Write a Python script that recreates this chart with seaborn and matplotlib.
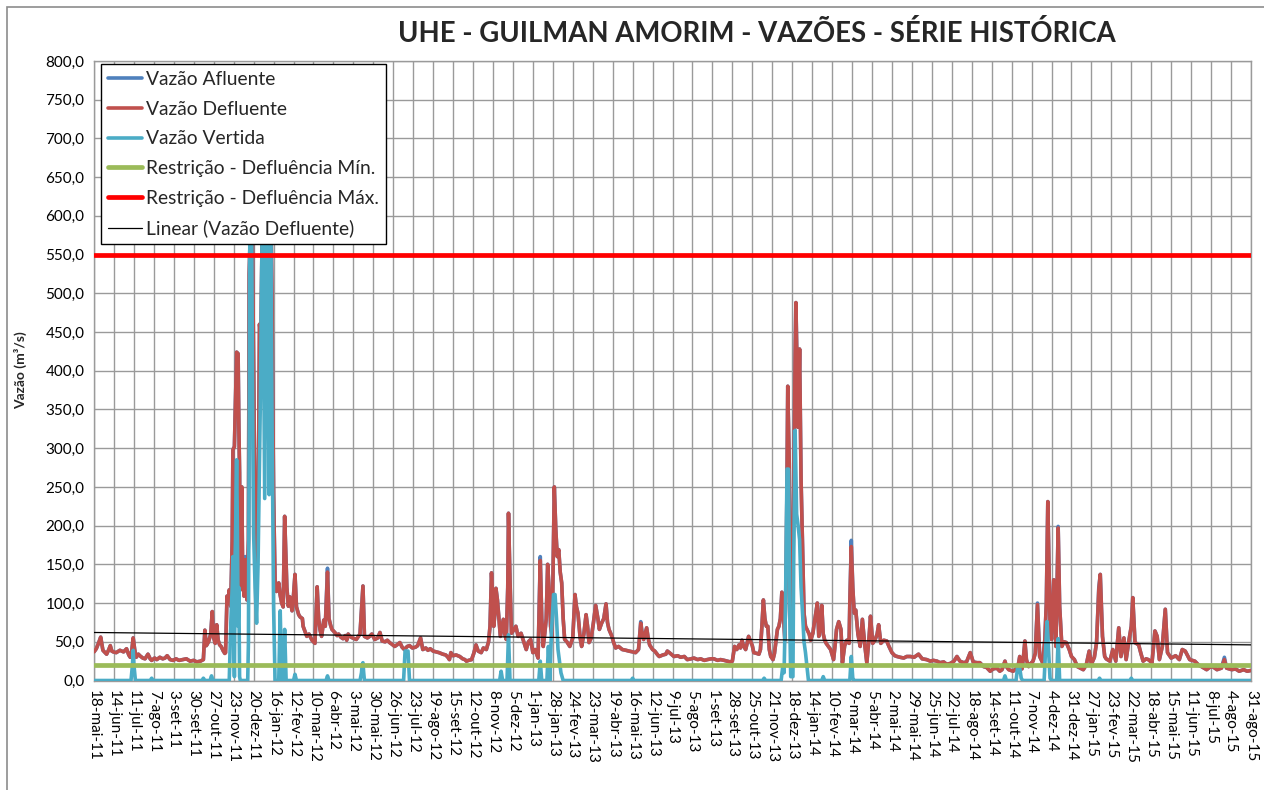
import numpy as np
import pandas as pd
import matplotlib
matplotlib.use("Agg")
import matplotlib.pyplot as plt
from matplotlib.patches import Rectangle
import seaborn as sns

# Serie historica de vazoes - UHE Guilman Amorim
inicio = pd.Timestamp("2011-05-18")

rotulos_x = [
    "18-mai-11", "14-jun-11", "11-jul-11", "7-ago-11", "3-set-11", "30-set-11",
    "27-out-11", "23-nov-11", "20-dez-11", "16-jan-12", "12-fev-12", "10-mar-12",
    "6-abr-12", "3-mai-12", "30-mai-12", "26-jun-12", "23-jul-12", "19-ago-12",
    "15-set-12", "12-out-12", "8-nov-12", "5-dez-12", "1-jan-13", "28-jan-13",
    "24-fev-13", "23-mar-13", "19-abr-13", "16-mai-13", "12-jun-13", "9-jul-13",
    "5-ago-13", "1-set-13", "28-set-13", "25-out-13", "21-nov-13", "18-dez-13",
    "14-jan-14", "10-fev-14", "9-mar-14", "5-abr-14", "2-mai-14", "29-mai-14",
    "25-jun-14", "22-jul-14", "18-ago-14", "14-set-14", "11-out-14", "7-nov-14",
    "4-dez-14", "31-dez-14", "27-jan-15", "23-fev-15", "22-mar-15", "18-abr-15",
    "15-mai-15", "11-jun-15", "8-jul-15", "4-ago-15", "31-ago-15",
]

# dias contados a partir de 18-mai-11
dias = [
    0, 3, 6, 9, 12, 15, 17, 20, 22, 24, 26, 30, 35, 40, 44, 47, 49, 51, 53, 55,
    57, 60, 62, 66, 69, 71, 73, 76, 78, 82, 85, 89, 93, 96, 99, 103, 107, 111, 115, 120,
    125, 130, 135, 139, 144, 148, 150, 152, 155, 158, 160, 162, 164, 166, 168, 170, 172, 175, 177,
    178, 180, 182, 183, 185, 187, 188, 190, 192, 193, 195, 196, 197, 198, 199, 200, 201, 203, 205, 207,
    209, 210, 212, 214, 216, 217, 219, 220, 222, 224, 226, 228, 231, 234, 237, 239, 241, 243, 245, 247,
    250, 252, 254, 256, 258, 260, 261, 263, 265, 268, 270, 272, 274, 277, 279, 282,
    283, 286, 288, 291, 295, 299, 302, 304, 306, 308, 311, 313, 316, 318, 320, 322, 326, 329, 331, 334,
    337, 340, 342, 344,
    346, 350, 355, 360, 364, 366, 370, 373, 376, 380, 384, 387, 390, 394, 397, 400, 403, 407, 410, 414,
    417, 420, 424, 427, 431, 435, 438, 442, 445, 449, 452, 455, 459, 463, 467, 472, 476, 479, 481, 483,
    486, 490, 495, 499, 502, 504, 507, 511, 514, 517, 520, 524, 527, 531, 534, 536, 538, 540, 541, 543,
    544, 546, 548, 550, 554, 556, 558, 560, 561, 563, 565, 568, 571, 574, 578, 581, 585, 588, 591, 594,
    597, 601, 604, 606, 608, 610, 612, 614, 616, 618, 620, 623, 625, 627, 629, 631, 633, 635, 637, 640,
    644, 648, 651, 653, 655, 658, 660, 663, 666, 668, 670, 673, 676, 679, 682, 684, 687, 690, 693, 695,
    697, 701, 703, 706, 710, 715, 720, 724, 729, 733, 737, 740, 742, 744, 748, 750, 752, 756, 759, 763,
    765, 770, 774,
    776, 780, 785, 790, 794, 799, 803, 808, 812, 817, 821, 826, 830, 835, 839, 844, 848, 853, 857, 861,
    864, 867, 870, 873, 875, 877, 879, 882, 884, 886, 888, 891, 893, 897, 900, 902, 904, 906, 908, 910,
    912, 914, 916, 919, 921, 923, 925, 927, 929, 931, 933, 935, 937, 939, 941, 943, 945, 947, 949, 950,
    952, 953, 955, 957, 959, 961, 963, 965, 968, 970, 973, 975, 977, 979, 981, 983, 985, 987, 989, 991,
    994, 997, 1001, 1003, 1005, 1008, 1011, 1013, 1016, 1019, 1022, 1023, 1025, 1027, 1029, 1031, 1034, 1037, 1040, 1043,
    1046, 1049, 1051, 1054, 1057, 1060, 1062, 1065, 1069, 1073, 1076, 1080, 1084, 1087, 1091, 1096, 1100, 1105, 1110, 1116,
    1121, 1127, 1132,
    1136, 1141, 1145, 1150, 1154, 1159, 1164, 1168, 1172, 1177, 1181, 1186, 1190, 1195, 1199, 1204, 1208, 1213, 1217, 1222,
    1226, 1229, 1233, 1235, 1238, 1244, 1249, 1251, 1253, 1256, 1258, 1260, 1262, 1265, 1268, 1271, 1274, 1277, 1280, 1284,
    1287, 1289, 1291, 1293, 1294, 1296, 1299, 1301, 1302, 1305, 1307, 1310, 1313, 1316, 1320, 1323, 1327, 1331, 1335, 1339,
    1343, 1347, 1350, 1354, 1357, 1360, 1362, 1365, 1368, 1370, 1375, 1379, 1383, 1387, 1390, 1394, 1397, 1401, 1404, 1406,
    1409, 1414, 1417, 1420, 1424, 1427, 1432, 1436, 1439, 1442, 1446, 1450, 1453, 1458, 1464, 1469, 1473, 1477, 1483, 1490,
    1495, 1499, 1506, 1510, 1514, 1520, 1526, 1530, 1533, 1540, 1545, 1550, 1556, 1561, 1566,
]

# Vazao Defluente (m3/s)
defluente = [
    37, 41, 48, 56, 39, 36, 34, 40, 45, 38, 37, 36, 39, 37, 41, 33, 30, 38, 55, 40,
    30, 34, 32, 29, 28, 31, 34, 28, 26, 29, 27, 30, 28, 29, 32, 27, 26, 28, 26, 27,
    28, 25, 26, 24, 25, 27, 65, 45, 50, 60, 89, 55, 48, 72, 52, 46, 44, 38, 35,
    36, 109, 100, 117, 96, 180, 298, 302, 380, 424, 422, 330, 268, 117, 200, 250, 150, 109, 156, 104,
    182, 525, 600, 620, 400, 300, 180, 150, 200, 460, 440, 630, 560, 650, 570, 640, 480, 240, 130, 115,
    126, 110, 100, 95, 212, 150, 120, 96, 108, 90, 110, 137, 95, 85, 82, 80,
    70, 62, 57, 60, 52, 48, 121, 80, 65, 57, 78, 70, 140, 80, 72, 66, 62, 58, 60, 56,
    54, 58, 52, 60,
    57, 55, 53, 60, 122, 57, 55, 57, 60, 53, 55, 62, 51, 50, 52, 49, 47, 44, 46, 49,
    43, 40, 44, 45, 42, 43, 45, 55, 40, 42, 39, 41, 38, 37, 36, 34, 33, 30, 27, 36,
    32, 33, 31, 28, 27, 25, 26, 27, 35, 46, 38, 36, 42, 40, 50, 70, 139, 100, 70, 90,
    119, 104, 80, 57, 79, 60, 53, 120, 216, 130, 61, 65, 70, 57, 61, 52, 40, 50, 53, 36,
    40, 29, 155, 80, 44, 60, 79, 150, 117, 70, 57, 250, 195, 160, 169, 140, 126, 80, 53, 50,
    44, 55, 111, 95, 87, 55, 44, 60, 85, 70, 49, 55, 75, 97, 80, 66, 74, 80, 99, 75,
    66, 57, 50, 42, 44, 40, 39, 38, 37, 36, 40, 74, 60, 53, 68, 55, 46, 40, 38, 33,
    31, 33, 34,
    38, 35, 31, 32, 30, 31, 27, 28, 29, 27, 28, 26, 27, 28, 28, 26, 27, 26, 25, 24,
    25, 44, 40, 46, 42, 52, 45, 40, 48, 57, 52, 45, 36, 35, 34, 40, 70, 104, 80, 70,
    70, 40, 31, 27, 35, 50, 66, 70, 80, 114, 91, 52, 150, 380, 280, 86, 44, 237, 420, 488,
    380, 327, 428, 259, 173, 87, 70, 66, 60, 52, 61, 75, 87, 100, 57, 70, 97, 60, 52, 48,
    44, 40, 27, 45, 66, 76, 66, 23, 45, 52, 48, 100, 173, 120, 87, 91, 60, 44, 79, 48,
    23, 55, 83, 48, 52, 60, 72, 48, 52, 51, 44, 36, 32, 31, 30, 29, 31, 31, 30, 34,
    28, 27, 25,
    26, 25, 23, 24, 21, 22, 25, 31, 25, 23, 24, 36, 24, 23, 23, 18, 17, 12, 15, 16,
    12, 14, 25, 18, 14, 12, 16, 20, 31, 15, 30, 51, 27, 18, 22, 25, 35, 98, 31, 23,
    53, 100, 231, 130, 75, 53, 130, 70, 44, 197, 96, 44, 50, 49, 40, 31, 27, 18, 16, 14,
    20, 38, 21, 30, 49, 117, 137, 57, 31, 28, 25, 40, 25, 68, 31, 55, 27, 53, 70, 107,
    49, 46, 35, 25, 28, 27, 23, 64, 57, 27, 44, 92, 36, 29, 32, 27, 40, 38, 27, 25,
    20, 18, 14, 17, 18, 14, 16, 27, 16, 14, 15, 12, 14, 12, 13,
]

# Vazao Afluente: igual a defluente, exceto nos picos onde aparece um pouco acima
afluente_picos = {205: 160, 316: 145, 604: 160, 740: 76, 1025: 181,
                  1277: 100, 1305: 199, 1360: 120, 1530: 30}

dias_vertida = [
    0, 50, 52, 53, 54, 56, 76, 78, 80, 146, 148, 150, 157, 159, 161, 183, 185, 187, 188, 189,
    190, 191, 193, 194, 195, 196, 197, 198, 208, 209, 211, 213, 215, 216, 218, 220, 222, 225, 228, 231,
    234, 237, 239, 241, 243, 245, 250, 252, 254, 256, 258, 260, 270, 272, 274, 314, 316, 318, 360, 362,
    363, 364, 365, 366, 419, 421, 425, 427, 549, 551, 553, 559, 561, 563, 602, 604, 606, 613, 615, 617,
    619, 622, 624, 626, 628, 632, 635, 727, 729, 731, 905, 907, 909, 930, 932, 934, 936, 938, 940, 942,
    943, 946, 947, 949, 951, 953, 955, 957, 959, 961, 963, 965, 967, 985, 987, 989, 1023, 1025, 1027, 1029,
    1231, 1233, 1235, 1248, 1250, 1253, 1255, 1257, 1286, 1288, 1290, 1292, 1294, 1296, 1303, 1305, 1307, 1359, 1361, 1363,
    1402, 1404, 1406, 1566,
]
vertida = [
    0, 0, 20, 39, 20, 0, 0, 3, 0, 0, 3, 0, 0, 6, 0, 0, 72, 120, 160, 60,
    5, 150, 285, 200, 70, 120, 5, 0, 0, 50, 620, 640, 300, 190, 120, 74, 150, 353, 630, 235,
    650, 240, 620, 330, 96, 0, 0, 90, 0, 0, 66, 0, 0, 8, 0, 0, 6, 0, 0, 10,
    21, 23, 10, 0, 0, 38, 38, 0, 0, 12, 0, 0, 59, 0, 0, 25, 0, 0, 44, 0,
    60, 111, 111, 80, 40, 10, 0, 0, 3, 0, 0, 3, 0, 0, 16, 10, 100, 273, 273, 60,
    5, 5, 150, 323, 215, 200, 182, 120, 87, 50, 36, 18, 0, 0, 5, 0, 0, 31, 3, 0,
    0, 6, 0, 0, 16, 16, 3, 0, 0, 40, 76, 40, 3, 0, 0, 54, 0, 0, 3, 0,
    0, 3, 0, 0,
]

restricao_min = 20.0
restricao_max = 550.0
tendencia = [62.0, 46.0]  # Linear (Vazao Defluente) no inicio e no fim da serie

sns.set_theme(style="white")
plt.rcParams["font.family"] = ["Lato", "DejaVu Sans"]

afluente = [afluente_picos.get(d, v) for d, v in zip(dias, defluente)]
datas = inicio + pd.to_timedelta(dias, unit="D")
datas_vert = inicio + pd.to_timedelta(dias_vertida, unit="D")
ticks = inicio + pd.to_timedelta(27 * np.arange(len(rotulos_x)), unit="D")
extremos = [ticks[0], ticks[-1]]

fig = plt.figure(figsize=(12.64, 7.9), dpi=100)
ax = fig.add_axes([0.0744, 0.1386, 0.9153, 0.7842])

sns.lineplot(x=datas, y=afluente, color="#4F81BD", lw=2.6, label="Vazão Afluente",
             estimator=None, ax=ax, zorder=2)
sns.lineplot(x=datas, y=defluente, color="#C0504D", lw=2.6, label="Vazão Defluente",
             estimator=None, ax=ax, zorder=3)
sns.lineplot(x=datas_vert, y=vertida, color="#4BACC6", lw=2.6, label="Vazão Vertida",
             estimator=None, ax=ax, zorder=4)
sns.lineplot(x=extremos, y=[restricao_min] * 2, color="#9BBB59", lw=3.4,
             label="Restrição - Defluência Mín.", ax=ax, zorder=5)
sns.lineplot(x=extremos, y=[restricao_max] * 2, color="#FF0000", lw=3.4,
             label="Restrição - Defluência Máx.", ax=ax, zorder=5)
sns.lineplot(x=extremos, y=tendencia, color="black", lw=0.9,
             label="Linear (Vazão Defluente)", ax=ax, zorder=6)

ax.set_xlim(ticks[0], ticks[-1])
ax.set_ylim(0, 800)
ax.set_xticks(ticks)
ax.set_xticklabels(rotulos_x, rotation=270, fontsize=11)
yt = np.arange(0, 801, 50)
ax.set_yticks(yt)
ax.set_yticklabels([f"{v:.1f}".replace(".", ",") for v in yt], fontsize=11)
ax.set_xlabel("")
ax.set_ylabel("")
ax.grid(True, color="#9a9a9a", lw=1.0)
ax.set_axisbelow(True)
ax.tick_params(axis="both", direction="out", length=4, width=1.0, color="#9a9a9a",
               pad=3, labelcolor="black")
for s in ax.spines.values():
    s.set_color("#9a9a9a")
    s.set_linewidth(1.0)

leg = ax.legend(loc="upper left", bbox_to_anchor=(0.006, 0.995), frameon=True,
                fancybox=False, framealpha=1, edgecolor="black", fontsize=13.9,
                handlelength=1.8, handletextpad=0.2, labelspacing=0.66,
                borderpad=0.35, borderaxespad=0)
leg.get_frame().set_linewidth(1.0)
leg.set_zorder(10)

fig.text(0.599, 0.958, "UHE - GUILMAN AMORIM - VAZÕES - SÉRIE HISTÓRICA",
         ha="center", va="center", fontsize=19.8, weight="bold")
fig.text(0.016, 0.532, "Vazão (m³/s)", rotation=90, ha="center", va="center",
         fontsize=10, weight="bold")

fig.patches.append(Rectangle((7 / 1264, -0.02), 1.0, 1.02 - 7 / 790, transform=fig.transFigure,
                             fill=False, edgecolor="#8c8c8c", lw=1.2))

fig.savefig("out.png", dpi=100)
